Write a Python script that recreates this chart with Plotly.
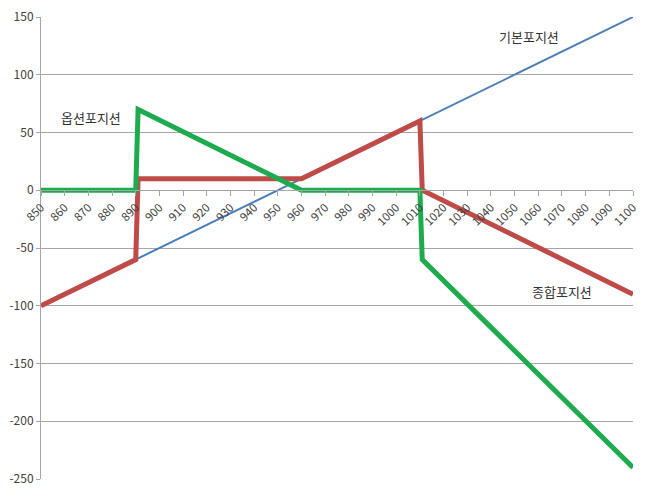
import plotly.graph_objects as go

# Data
base_x = [850, 1100]
base_y = [-100, 150]

option_x = [850, 890, 891, 960, 1010, 1011, 1100]
option_y = [0, 0, 70, 0, 0, -60, -240]

combined_x = [850, 890, 891, 960, 1010, 1011, 1100]
combined_y = [-100, -60, 10, 10, 60, 0, -90]

x_ticks = list(range(850, 1101, 10))
y_ticks = [-250, -200, -150, -100, -50, 0, 50, 100, 150]

labels = [
    ("기본포지션", 1056, 133),
    ("옵션포지션", 871, 63),
    ("종합포지션", 1070, -88),
]

FONT = "Noto Sans CJK KR"
y_range = [-250, 150]

fig = go.Figure()
fig.add_trace(go.Scatter(x=base_x, y=base_y, mode="lines",
                         line=dict(color="#4A7EBB", width=2), showlegend=False))
fig.add_trace(go.Scatter(x=combined_x, y=combined_y, mode="lines",
                         line=dict(color="#BE4B48", width=5), showlegend=False))
fig.add_trace(go.Scatter(x=option_x, y=option_y, mode="lines",
                         line=dict(color="#1EAB4E", width=5), showlegend=False))

for text, x, y in labels:
    fig.add_annotation(x=x, y=y, text=text, showarrow=False,
                       font=dict(family=FONT, size=13, color="#333333"))

zero_pos = (0 - y_range[0]) / (y_range[1] - y_range[0])

fig.update_layout(
    width=650, height=497,
    margin=dict(l=41, r=17, t=17, b=18, autoexpand=False),
    paper_bgcolor="white", plot_bgcolor="white",
    font=dict(family=FONT, color="#404040"),
    xaxis=dict(range=[850, 1100], tickvals=x_ticks, ticktext=[str(v) for v in x_ticks],
               tickangle=-45, anchor="free", position=zero_pos, automargin=False,
               showline=True, linecolor="#A6A6A6", linewidth=1,
               ticks="outside", ticklen=5, tickcolor="#A6A6A6",
               showgrid=False, zeroline=False,
               tickfont=dict(size=11.5, color="#404040", family=FONT)),
    yaxis=dict(range=y_range, tickvals=y_ticks, ticktext=[str(v) for v in y_ticks],
               automargin=False,
               showline=True, linecolor="#A6A6A6", linewidth=1,
               ticks="outside", ticklen=4, tickcolor="#A6A6A6",
               showgrid=True, gridcolor="#A6A6A6", gridwidth=1,
               zeroline=False,
               tickfont=dict(size=12, color="#404040", family=FONT)),
)

fig.write_html("out.html")
